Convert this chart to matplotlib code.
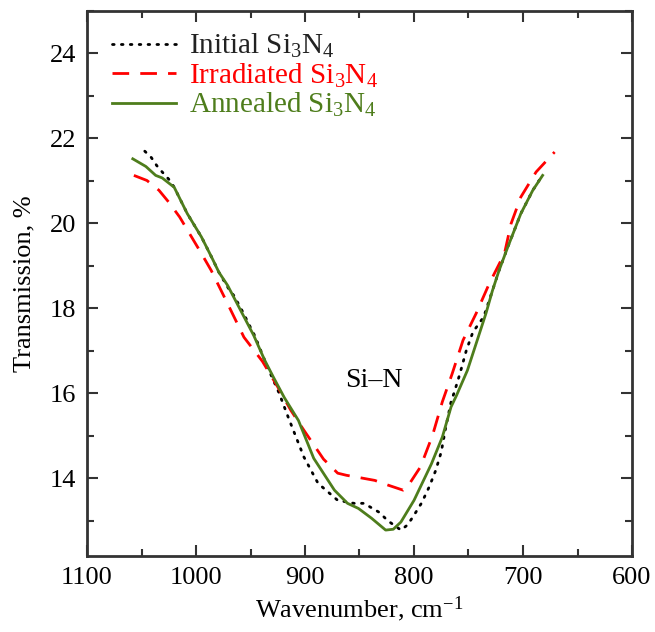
import matplotlib
matplotlib.use("Agg")
import matplotlib.pyplot as plt
from matplotlib.ticker import MultipleLocator

plt.rcParams['font.family'] = ['Liberation Serif', 'DejaVu Serif']
plt.rcParams['mathtext.fontset'] = 'custom'
plt.rcParams['mathtext.rm'] = 'Liberation Serif'
plt.rcParams['mathtext.it'] = 'Liberation Serif:italic'

# Data (wavenumber cm^-1, transmission %)
initial_x = [1047, 1041, 1036, 1031, 1025, 1020, 1008, 995, 985, 979, 970, 965, 957,
             950, 946, 935, 924, 915, 901, 888, 870, 855, 846, 832, 824, 812, 806,
             801, 793, 786, 780, 775, 771, 766, 763, 758, 752, 746, 736, 728, 722,
             714, 702, 691, 683]
initial_y = [21.7, 21.55, 21.36, 21.21, 21.04, 20.85, 20.23, 19.68, 19.17, 18.85, 18.46,
             18.29, 17.91, 17.55, 17.35, 16.65, 16.02, 15.41, 14.5, 13.88, 13.48, 13.41,
             13.41, 13.2, 13.0, 12.78, 12.9, 13.09, 13.42, 13.8, 14.19, 14.62, 15.18,
             15.8, 16.03, 16.45, 17.01, 17.44, 17.8, 18.42, 18.89, 19.44, 20.23, 20.78,
             21.1]

irr_x = [1057, 1045, 1034, 1025, 1015, 995, 986, 971, 956, 939, 925, 913, 901, 883,
         870, 862, 851, 836, 824, 810, 806, 794, 783, 774, 765, 755, 743, 731, 717,
         711, 702, 688, 671]
irr_y = [21.13, 21.01, 20.78, 20.5, 20.15, 19.29, 18.89, 18.11, 17.32, 16.75, 16.15,
         15.6, 15.13, 14.45, 14.12, 14.07, 14.02, 13.95, 13.84, 13.72, 13.8, 14.27,
         15.01, 15.8, 16.46, 17.25, 17.88, 18.58, 19.29, 19.99, 20.62, 21.21, 21.68]

ann_x = [1058, 1046, 1037, 1031, 1020, 1008, 995, 985, 979, 971, 959, 947, 937, 929,
         919, 906, 892, 873, 861, 851, 839, 826, 819, 812, 800, 784, 774, 766, 761,
         751, 743, 734, 728, 722, 714, 702, 691, 682]
ann_y = [21.52, 21.34, 21.13, 21.07, 20.85, 20.23, 19.68, 19.17, 18.85, 18.54, 17.95,
         17.36, 16.78, 16.38, 15.9, 15.36, 14.47, 13.72, 13.41, 13.29, 13.06, 12.78,
         12.8, 12.97, 13.48, 14.34, 14.97, 15.68, 15.95, 16.54, 17.17, 17.88, 18.42,
         18.89, 19.44, 20.23, 20.78, 21.13]

labels = [r'Initial Si$_3$N$_4$', r'Irradiated Si$_3$N$_4$', r'Annealed Si$_3$N$_4$']
colors = ['#222222', '#ff0000', '#4e7d1c']

fig = plt.figure(figsize=(6.55, 6.32), dpi=100)
ax = fig.add_axes([87/655, 1-556/632, (632-87)/655, (556-11)/632])

ax.plot(initial_x, initial_y, color='black', lw=2.0, linestyle=(0, (0.6, 2.6)),
        dash_capstyle='round', label=labels[0])
ax.plot(irr_x, irr_y, color='#ff0000', lw=2.0, linestyle=(0, (6, 4)), label=labels[1])
ax.plot(ann_x, ann_y, color='#4e7d1c', lw=2.0, label=labels[2])

ax.set_xlim(1100, 600)
ax.set_ylim(12.17, 25.0)
ax.xaxis.set_major_locator(MultipleLocator(100))
ax.xaxis.set_minor_locator(MultipleLocator(50))
ax.yaxis.set_major_locator(MultipleLocator(2))
ax.yaxis.set_minor_locator(MultipleLocator(1))
ax.set_yticks([14, 16, 18, 20, 22, 24])
ax.tick_params(which='both', direction='in', top=True, right=True,
               labelsize=19, width=1.5, color='#333333', pad=8)
ax.tick_params(which='major', length=8)
ax.tick_params(which='minor', length=5)
for s in ax.spines.values():
    s.set_linewidth(2)
    s.set_color('#333333')

ax.set_xlabel('Wavenumber, cm$^{-1}$', fontsize=19, labelpad=4)
ax.set_ylabel('Transmission, %', fontsize=19, labelpad=10)

ax.text(837, 16.31, 'Si–N', fontsize=20, ha='center', va='center')

leg = ax.legend(loc='upper left', frameon=False, fontsize=21, handlelength=2.2,
                handletextpad=0.45, labelspacing=0.05, borderaxespad=0.0,
                borderpad=0.0, bbox_to_anchor=(0.046, 0.962))
for t, c in zip(leg.get_texts(), colors):
    t.set_color(c)

fig.savefig('out.png', dpi=100)
